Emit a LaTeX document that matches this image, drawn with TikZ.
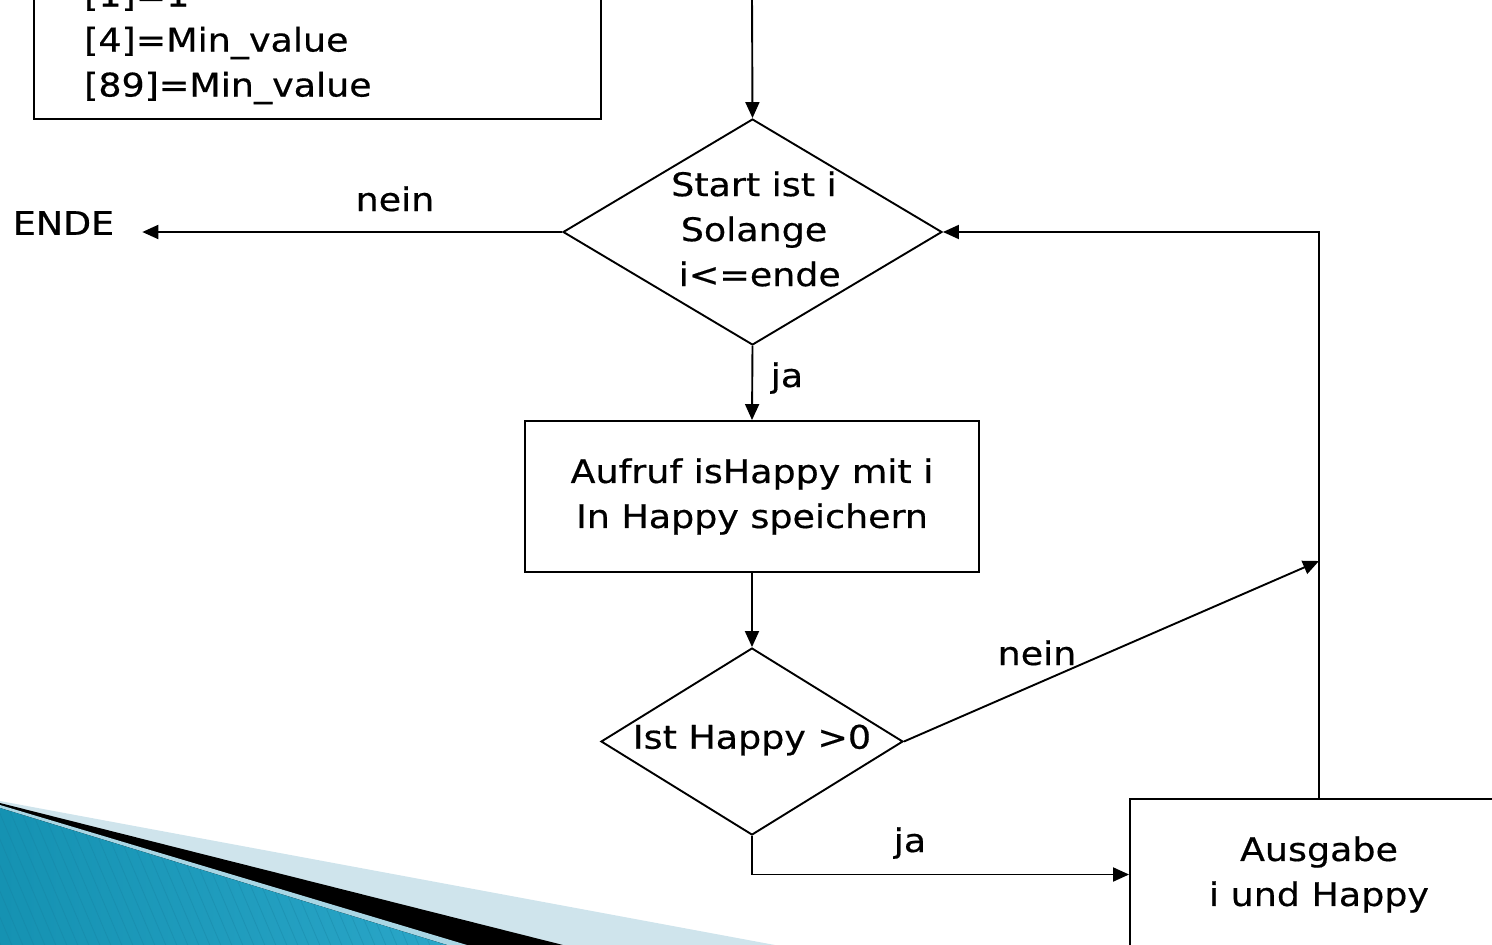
\documentclass[tikz,border=0pt]{standalone}
\usepackage{fontspec}
\setmainfont[FakeStretch=1.12,FakeBold=0.5]{DejaVu Sans}
\usetikzlibrary{arrows.meta,shapes.geometric}
\definecolor{swooshlight}{HTML}{CFE4EC}
\definecolor{swooshedge}{HTML}{A9D6E4}
\definecolor{tealdark}{HTML}{1592B2}
\definecolor{teallight}{HTML}{6ECBE5}
\definecolor{tealmid}{HTML}{2AA6C8}
\definecolor{stripecol}{HTML}{15809F}
\begin{document}
\begin{tikzpicture}[x=1pt,y=-1pt,
  every node/.style={font=\fontsize{32.5}{45}\selectfont, inner sep=0pt},
  flow/.style={line width=1.9pt},
  arr/.style={flow, -{Triangle[length=16pt,width=14pt]}},
  procbox/.style={draw, line width=1.9pt, rectangle},
  decision/.style={draw, line width=1.9pt, diamond, inner sep=0pt},
  edgelabel/.style={anchor=base},
]
\useasboundingbox (0,0) rectangle (1492,945);
\begin{scope}
\clip (0,0) rectangle (1492,945);

% decorative swoosh in the lower left corner
\fill[swooshlight] (0,801) -- (775,945) -- (0,945) -- cycle;
\fill[black] (0,803) -- (563,945) -- (0,945) -- cycle;
\fill[swooshedge] (0,805) -- (467,945) -- (0,945) -- cycle;
\fill[left color=tealdark, middle color=teallight, right color=tealmid]
  (0,808) -- (447,945) -- (0,945) -- cycle;
\begin{scope}
  \clip (0,808) -- (447,945) -- (0,945) -- cycle;
  \foreach \s in {-120,-109,...,480}
    \draw[stripecol, opacity=0.35, line width=0.8pt] (\s,790) -- ++(70,165);
\end{scope}

% initial values
\node[procbox, minimum width=567pt, minimum height=170pt] (init) at (317.5,34) {};
\node[anchor=west, align=left] (initText) at (84,43)
  {[1]=1\\{[4]=Min\_value}\\{[89]=Min\_value}};

% loop condition
\node[decision, minimum width=379pt, minimum height=226pt] (loop) at (752.5,232) {};
\node[align=center] (loopText) at (754,229) {Start ist i\\Solange\\\ i<=ende};

% call and store
\node[procbox, minimum width=454pt, minimum height=151pt, align=center]
  (call) at (752,496.5) {Aufruf isHappy mit i\\In Happy speichern};

% happy check
\node[decision, minimum width=302pt, minimum height=187pt] (check) at (752,741.5) {};
\node (checkText) at (752,740) {Ist Happy >0};

% output
\node[procbox, minimum width=378pt, minimum height=151pt, align=center]
  (out) at (1319,874.5) {Ausgabe\\i und Happy};

% end of loop
\node[inner xsep=28pt] (ende) at (63.5,223) {ENDE};

\coordinate (entry) at (752,-5);
\coordinate (merge) at (1319,561);

\draw[arr] (entry) -- (loop.north);
\draw[arr] (loop.west) -- (loop.west -| ende.east);
\node[edgelabel] (neinEnd) at (395,211) {nein};
\draw[arr] (loop.south) -- (call.north);
\node[edgelabel] (jaLoop) at (787,387) {ja};
\draw[arr] (call.south) -- (check.north);
\draw[arr] (check.east) -- (merge);
\node[edgelabel] (neinCheck) at (1037,665) {nein};
\draw[arr] (check.south) |- (out.west);
\node[edgelabel] (jaCheck) at (910,852) {ja};
\draw[arr] (out.north) |- (loop.east);
\end{scope}
\end{tikzpicture}
\end{document}
